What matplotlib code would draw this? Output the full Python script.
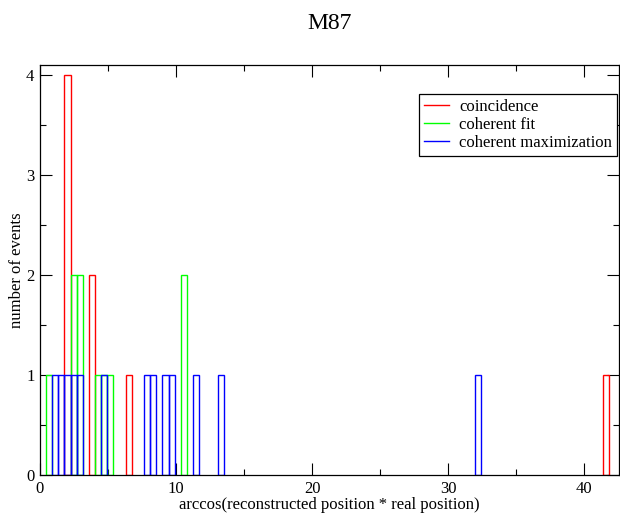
import matplotlib
matplotlib.use('Agg')
import matplotlib.pyplot as plt
from matplotlib.lines import Line2D
from matplotlib.ticker import MultipleLocator

plt.rcParams['font.family'] = ['Liberation Serif', 'DejaVu Serif']

# histogram bins (left edge) and counts, bin width 0.45
bin_width = 0.45
coinc_left = [1.8, 3.6, 6.3, 41.4]
coinc_counts = [4, 2, 1, 1]
cfit_left = [0.45, 2.25, 2.7, 4.05, 4.5, 4.95, 10.35]
cfit_counts = [1, 2, 2, 1, 1, 1, 2]
cmax_left = [0.9, 1.35, 1.8, 2.25, 2.7, 4.5, 7.65, 8.1, 9.0, 9.45, 11.25, 13.05, 31.95]
cmax_counts = [1, 1, 1, 1, 1, 1, 1, 1, 1, 1, 1, 1, 1]

labels = ['coincidence', 'coherent fit', 'coherent maximization']
colors = ['#ff0000', '#00ff00', '#0000ff']

fig = plt.figure(figsize=(6.2, 5.14), dpi=100)
ax = fig.add_axes([40/620, 39/514, 579/620, 410/514])

series = [(coinc_left, coinc_counts), (cfit_left, cfit_counts), (cmax_left, cmax_counts)]
for (left, counts), c in zip(series, colors):
    ax.bar(left, counts, width=bin_width, align='edge', fill=False,
           edgecolor=c, linewidth=1.0, zorder=2)

ax.set_xlim(0, 42.55)
ax.set_ylim(0, 4.1)
ax.xaxis.set_major_locator(MultipleLocator(10))
ax.xaxis.set_minor_locator(MultipleLocator(5))
ax.yaxis.set_major_locator(MultipleLocator(1))
ax.yaxis.set_minor_locator(MultipleLocator(0.5))
ax.tick_params(which='both', direction='in', top=True, right=True,
               width=0.8, labelsize=12, pad=4)
ax.tick_params(which='major', length=8.6)
ax.tick_params(which='minor', length=4.3)
for s in ax.spines.values():
    s.set_linewidth(0.9)

ax.set_xlabel('arccos(reconstructed position * real position)', fontsize=12, labelpad=0)
ax.set_ylabel('number of events', fontsize=12, labelpad=0.5)
ax.set_title('M87', fontsize=17, pad=26)

handles = [Line2D([], [], color=c, linewidth=1.0) for c in colors]
leg = ax.legend(handles, labels, loc='upper right', bbox_to_anchor=(0.997, 0.929),
                borderaxespad=0, fontsize=12, handlelength=1.5, handletextpad=0.65,
                labelspacing=0.12, borderpad=0.3, fancybox=False, framealpha=1)
leg.get_frame().set_edgecolor('black')
leg.get_frame().set_linewidth(0.9)

fig.savefig('out.png', dpi=100)
